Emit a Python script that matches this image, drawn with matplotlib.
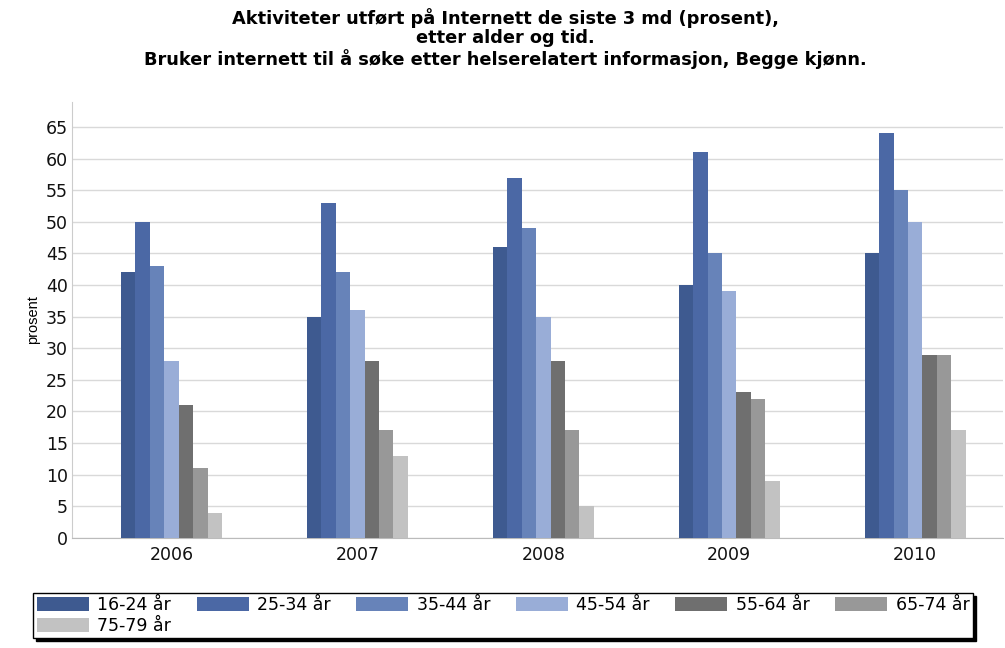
import numpy as np
import matplotlib
matplotlib.use("Agg")
import matplotlib.pyplot as plt

plt.rcParams["font.family"] = ["DejaVu Sans"]

years = ["2006", "2007", "2008", "2009", "2010"]
age_groups = ["16-24 år", "25-34 år", "35-44 år", "45-54 år", "55-64 år", "65-74 år", "75-79 år"]
colors = ["#3e5a90", "#4b68a5", "#6783b9", "#99add7", "#6f6f6f", "#989898", "#c2c2c2"]

# prosent per aldersgruppe, en verdi per år
v16_24 = [42, 35, 46, 40, 45]
v25_34 = [50, 53, 57, 61, 64]
v35_44 = [43, 42, 49, 45, 55]
v45_54 = [28, 36, 35, 39, 50]
v55_64 = [21, 28, 28, 23, 29]
v65_74 = [11, 17, 17, 22, 29]
v75_79 = [4, 13, 5, 9, 17]
series = [v16_24, v25_34, v35_44, v45_54, v55_64, v65_74, v75_79]

fig = plt.figure(figsize=(10.05, 6.48), dpi=100)
ax = fig.add_axes([0.0716, 0.170, 0.926, 0.673])

x = np.arange(len(years))
width = 0.0776
bars = []
for i, (vals, col, lab) in enumerate(zip(series, colors, age_groups)):
    b = ax.bar(x + (i - 3) * width, vals, width, color=col, label=lab, zorder=3)
    bars.append(b)

ax.set_xlim(-0.535, 4.47)
ax.set_ylim(0, 69)
ax.set_yticks(range(0, 70, 5))
ax.set_xticks(x)
ax.set_xticklabels(years)
ax.tick_params(axis="both", length=0, labelsize=12.5, colors="#111111")
ax.tick_params(axis="x", pad=6)
ax.tick_params(axis="y", pad=3)
ax.grid(axis="y", color="#d9d9d9", linewidth=1, zorder=0)
for s in ["top", "right"]:
    ax.spines[s].set_visible(False)
ax.spines["left"].set_color("#cccccc")
ax.spines["bottom"].set_color("#bbbbbb")
ax.set_ylabel("prosent", fontsize=10.5, family="Liberation Sans", labelpad=4)

fig.text(0.503, 0.988, "Aktiviteter utført på Internett de siste 3 md (prosent),\netter alder og tid.\n"
         "Bruker internett til å søke etter helserelatert informasjon, Begge kjønn.",
         ha="center", va="top", fontsize=12.8, fontweight="bold", linespacing=1.12)

# legenden fylles kolonnevis, så rekkefølgen byttes for å få radvis visning
order = [0, 6, 1, 2, 3, 4, 5]
leg = fig.legend([bars[k] for k in order], [age_groups[k] for k in order],
                 loc="upper left", bbox_to_anchor=(0.033, 0.085, 0.935, 0.0),
                 mode="expand", ncol=6, fontsize=12.5, frameon=True, fancybox=False,
                 edgecolor="black", handlelength=3.0, handleheight=0.85,
                 handletextpad=0.5, borderpad=0.2, labelspacing=0.15,
                 shadow={"color": "black", "alpha": 1}, borderaxespad=0)
leg.get_frame().set_linewidth(1.0)

fig.savefig("out.png", dpi=100)
